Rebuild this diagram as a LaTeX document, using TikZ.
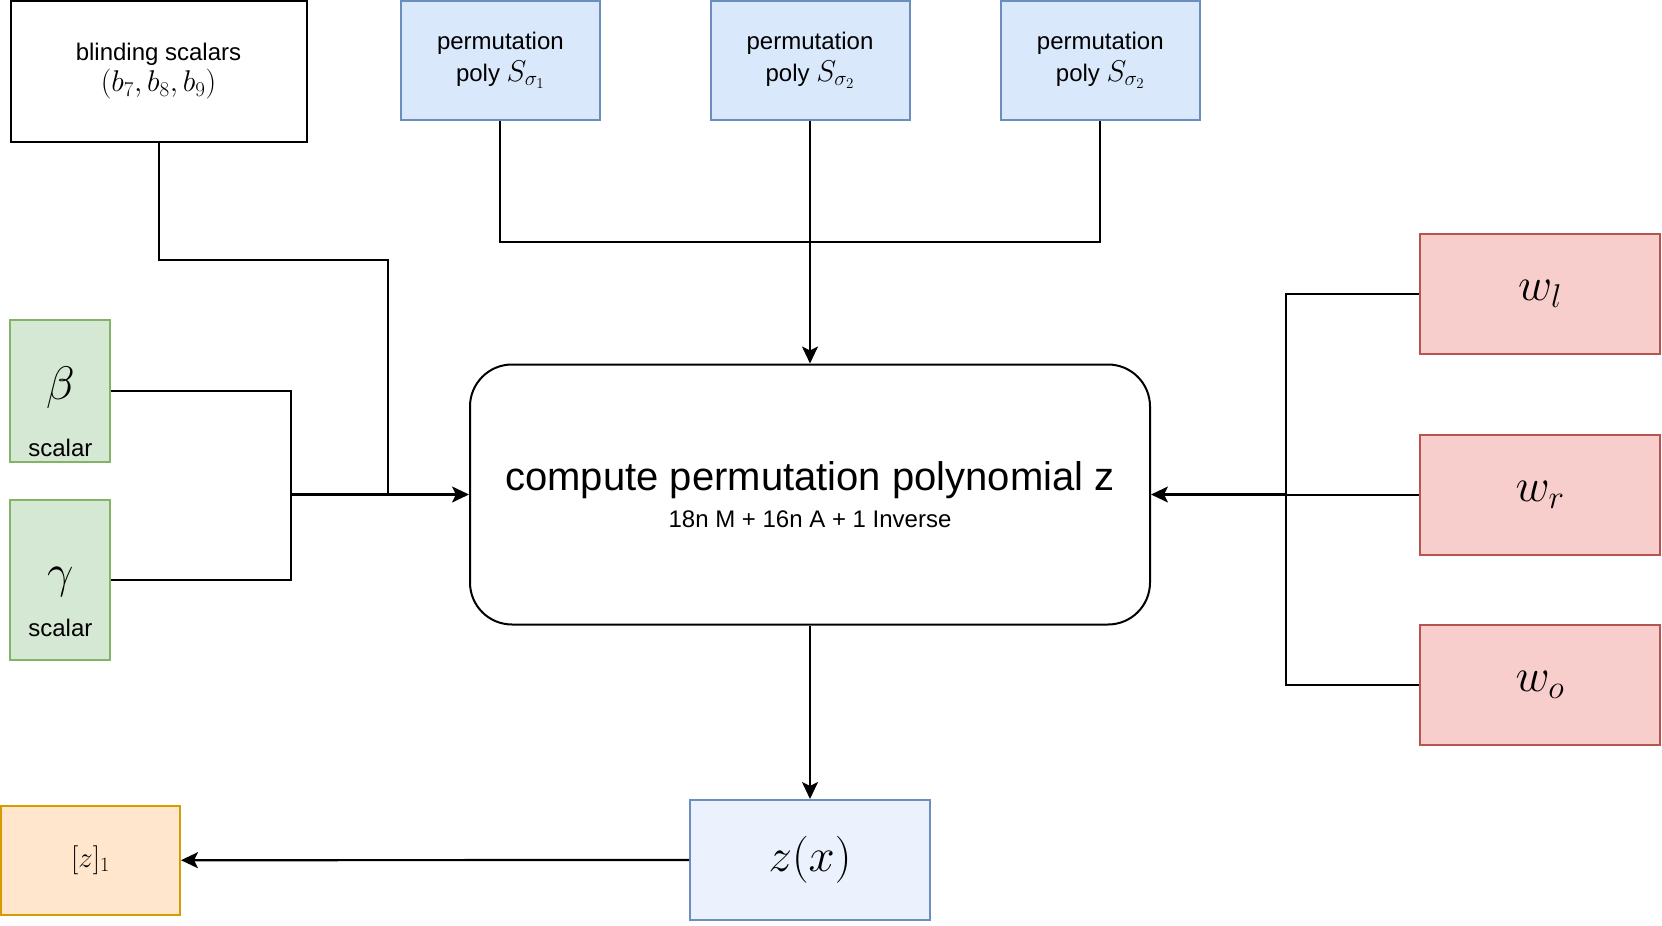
\RequirePackage{fix-cm}
\documentclass[tikz,border=0pt]{standalone}
\usepackage[no-math]{fontspec}
\setmainfont{Liberation Sans}
\usetikzlibrary{arrows.meta}
\definecolor{bluefill}{HTML}{DAE8FC}
\definecolor{bluedraw}{HTML}{6C8EBF}
\definecolor{lightblue}{HTML}{EBF1FD}
\definecolor{greenfill}{HTML}{D5E8D4}
\definecolor{greendraw}{HTML}{82B366}
\definecolor{redfill}{HTML}{F8CECC}
\definecolor{reddraw}{HTML}{B85450}
\definecolor{orangefill}{HTML}{FFE6CC}
\definecolor{orangedraw}{HTML}{D79B00}
\begin{document}
\begin{tikzpicture}[x=1pt,y=-1pt,line width=2pt,
  box/.style={draw,line width=2pt,inner sep=0pt,align=center,font=\fontsize{24}{31}\selectfont},
  permbox/.style={box,fill=bluefill,draw=bluedraw,minimum width=199pt,minimum height=119pt,font=\fontsize{24}{32}\selectfont},
  greenbox/.style={box,fill=greenfill,draw=greendraw,minimum width=100pt},
  redbox/.style={box,fill=redfill,draw=reddraw,minimum width=240pt,minimum height=120pt},
  arr/.style={line width=2.2pt,-{Stealth[length=17pt,width=16pt,inset=4pt]}},
  wire/.style={line width=2pt}]
\useasboundingbox (0,0) rectangle (1662,926);

% input boxes
\node[box,minimum width=296pt,minimum height=141pt] (blind) at (158.5,71.5)
  {blinding scalars\\{\fontsize{30}{31}\selectfont$(b_7,b_8,b_9)$}};
\node[permbox] (p1) at (500.4,60.4) {permutation\\poly {\fontsize{30}{32}\selectfont$S_{\sigma_1}$}};
\node[permbox] (p2) at (810,60.4) {permutation\\poly {\fontsize{30}{32}\selectfont$S_{\sigma_2}$}};
\node[permbox] (p3) at (1100.3,60.4) {permutation\\poly {\fontsize{30}{32}\selectfont$S_{\sigma_2}$}};

\node[greenbox,minimum height=142pt] (beta) at (60.4,391) {};
\node at (60.4,388) {\fontsize{47}{50}\selectfont$\beta$};
\node[font=\fontsize{24}{28}\selectfont] at (60.4,448) {scalar};
\node[greenbox,minimum height=160pt] (gamma) at (60.4,580) {};
\node at (60.4,582) {\fontsize{47}{50}\selectfont$\gamma$};
\node[font=\fontsize{24}{28}\selectfont] at (60.4,628) {scalar};

\node[redbox] (wl) at (1540,294) {\fontsize{47}{50}\selectfont$w_l$};
\node[redbox] (wr) at (1540,494.5) {\fontsize{47}{50}\selectfont$w_r$};
\node[redbox] (wo) at (1540,685) {\fontsize{47}{50}\selectfont$w_o$};

% central
\node[draw,line width=2pt,rounded corners=42pt,minimum width=680pt,minimum height=260pt,
  align=center,font=\fontsize{24}{37}\selectfont] (comp) at (810,494.5)
  {{\fontsize{40}{37}\selectfont compute permutation polynomial z}\\18n M + 16n A + 1 Inverse};

% outputs
\node[box,fill=lightblue,draw=bluedraw,minimum width=240pt,minimum height=120pt] (zx) at (810,860)
  {\fontsize{47}{50}\selectfont$z(x)$};
\node[box,fill=orangefill,draw=orangedraw,minimum width=179pt,minimum height=109pt] (z1) at (90.5,860.2)
  {\fontsize{29}{30}\selectfont$[z]_1$};

% junctions
\coordinate (jL) at (290.7,494.5);
\coordinate (jB) at (388,494.5);
\coordinate (bk) at (388,259.7);
\coordinate (jP) at (810,241.7);
\coordinate (jR) at (1285.8,494.5);

% connectors
\draw[wire] (blind.south) |- (bk) -- (jB);
\draw[wire] (beta.east) -| (jL);
\draw[wire] (gamma.east) -| (jL);
\draw[arr] (jL) -- (comp.west);

\draw[wire] (p1.south) |- (jP) -| (p3.south);
\draw[wire] (p2.south) -- (jP);
\draw[arr] (jP) -- (comp.north);

\draw[wire] (wl.west) -| (jR);
\draw[wire] (wo.west) -| (jR);
\draw[wire] (wr.west) -- (jR);
\draw[arr] (jR) -- (comp.east);

\draw[arr] (comp.south) -- (zx.north);
\draw[arr] (zx.west) -- (z1.east);
\end{tikzpicture}
\end{document}
